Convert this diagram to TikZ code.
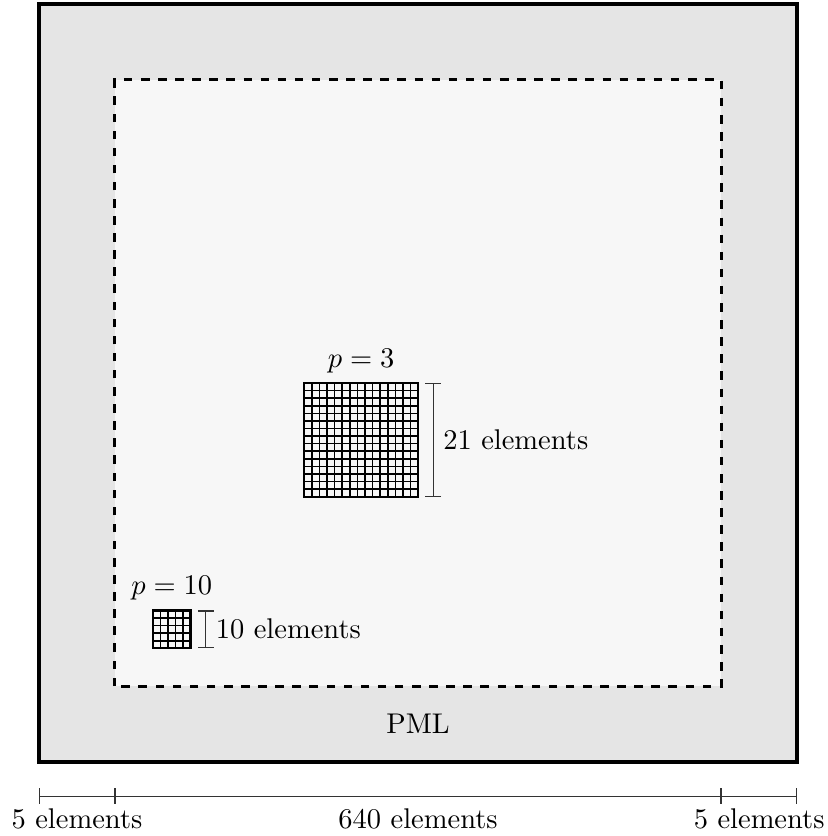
\documentclass[tikz,border=0pt]{standalone}
\usepackage{amsmath,amssymb}
\usepackage{tikz}
\usetikzlibrary{positioning,arrows.meta}

\begin{document}
\begin{tikzpicture}[x=0.935cm,y=0.935cm,
    dimbar/.style={{Bar[width=5.5pt]}-{Bar[width=5.5pt]},black!80},
    meshlines/.style={step=0.1,line width=0.55pt,black}]
  \useasboundingbox (-0.515,-0.976) rectangle (10.396,10.053);
  % PML layer and interior domain
  \draw[very thick,fill=black!10] (0,0) rectangle (10,10);
  \draw[line width=1pt,dashed,fill=black!3] (1,1) rectangle (9,9);
  \node (pml) at (5,0.5) {PML};
  % p = 3 patch
  \draw[meshlines] (3.5,3.5) grid (5,5);
  \draw[thick] (3.5,3.5) rectangle (5,5);
  \node[above] (pthree) at (4.25,5) {$p=3$};
  \coordinate (bigbot) at (5.2,3.5);
  \coordinate (bigtop) at (5.2,5);
  \draw[dimbar] (bigbot) -- (bigtop) node[midway,right,black] (bigdim) {21 elements};
  % p = 10 patch
  \draw[meshlines] (1.5,1.5) grid (2,2);
  \draw[thick] (1.5,1.5) rectangle (2,2);
  \node[above] (pten) at (1.75,2) {$p=10$};
  \coordinate (smallbot) at (2.2,1.5);
  \coordinate (smalltop) at (2.2,2);
  \draw[dimbar] (smallbot) -- (smalltop) node[midway,right,black] (smalldim) {10 elements};
  % widths along the bottom
  \coordinate (s0) at (0,-0.45);
  \coordinate (s1) at (1,-0.45);
  \coordinate (s2) at (9,-0.45);
  \coordinate (s3) at (10,-0.45);
  \draw[dimbar] (s0) -- (s1) node[midway,below=1pt,black] (leftw) {5 elements};
  \draw[dimbar] (s1) -- (s2) node[midway,below=1pt,black] (midw) {640 elements};
  \draw[dimbar] (s2) -- (s3) node[midway,below=1pt,black] (rightw) {5 elements};
\end{tikzpicture}
\end{document}
